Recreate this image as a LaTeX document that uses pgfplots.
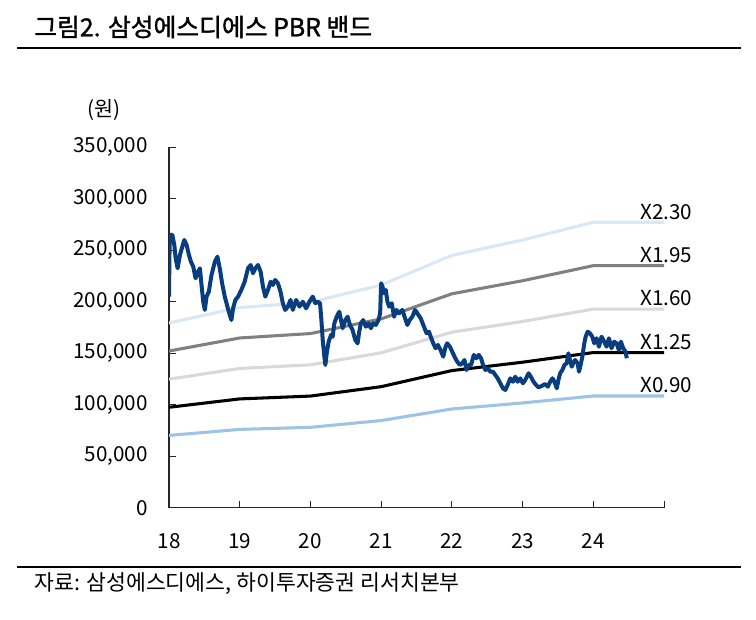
\documentclass[border=0pt]{standalone}
\usepackage{fontspec}
\usepackage{pgfplots}
\pgfplotsset{compat=1.18}
\setmainfont{Noto Sans CJK KR}
\newfontfamily\titlefont{Noto Sans CJK KR}[FakeBold=1.4]
\definecolor{bandA}{RGB}{218,232,246}
\definecolor{bandB}{RGB}{128,128,128}
\definecolor{bandC}{RGB}{217,217,217}
\definecolor{bandE}{RGB}{157,195,230}
\definecolor{price}{RGB}{8,62,128}
\newcommand{\lab}{\fontsize{15.5}{18}\selectfont}
\begin{document}
\begin{tikzpicture}
\path[use as bounding box] (0,0) rectangle (567pt,-464.25pt);
\begin{scope}[x=0.75pt,y=-0.75pt]
\node[anchor=west,inner sep=0pt,font=\titlefont\fontsize{18.6}{21}\selectfont] at (34,27) {그림2. 삼성에스디에스 PBR 밴드};
\draw[line width=1.5pt] (17,47.5) -- (741,47.5);
\draw[line width=1.5pt] (17,567.3) -- (741,567.3);
\node[anchor=west,inner sep=0pt,font=\fontsize{16.2}{19}\selectfont] at (34,584) {자료: 삼성에스디에스, 하이투자증권 리서치본부};
\node[inner sep=0pt,font=\lab] at (104,110) {(원)};
\node[anchor=west,inner sep=0pt,font=\lab] at (640,212) {X2.30};
\node[anchor=west,inner sep=0pt,font=\lab] at (640,255) {X1.95};
\node[anchor=west,inner sep=0pt,font=\lab] at (640,298) {X1.60};
\node[anchor=west,inner sep=0pt,font=\lab] at (640,342) {X1.25};
\node[anchor=west,inner sep=0pt,font=\lab] at (640,385) {X0.90};
\end{scope}
\begin{axis}[
  at={(126.75pt,-380.775pt)}, anchor=south west,
  width=371.25pt, height=270.4pt, scale only axis,
  xmin=18, xmax=25, ymin=0, ymax=350000,
  axis x line=bottom, axis y line=left,
  axis line style={-, line width=0.8pt, black!85},
  xtick={18,19,20,21,22,23,24,25},
  xticklabels={18,19,20,21,22,23,24,{}},
  ytick={0,50000,100000,150000,200000,250000,300000,350000},
  scaled y ticks=false,
  /pgf/number format/fixed,
  /pgf/number format/1000 sep={,},
  /pgf/number format/assume math mode=true,
  tick align=inside, major tick length=5pt,
  tick style={black!85, line width=0.7pt},
  tick label style={font=\lab},
  yticklabel style={inner sep=0pt, anchor=east, xshift=-15.75pt},
  xticklabel style={inner sep=0pt, anchor=north, yshift=-19pt},
  line join=round,
]
\addplot[bandA, line width=2.3pt] coordinates {(18,179400) (19,194350) (20,199410) (21,216200) (22,244950) (23,259900) (24,277150) (25,277150)};
\addplot[bandB, line width=2.3pt] coordinates {(18,152100) (19,164775) (20,169065) (21,183300) (22,207675) (23,220350) (24,234975) (25,234975)};
\addplot[bandC, line width=2.3pt] coordinates {(18,124800) (19,135200) (20,138720) (21,150400) (22,170400) (23,180800) (24,192800) (25,192800)};
\addplot[black, line width=2.3pt] coordinates {(18,97500) (19,105625) (20,108375) (21,117500) (22,133125) (23,141250) (24,150625) (25,150625)};
\addplot[bandE, line width=2.3pt] coordinates {(18,70200) (19,76050) (20,78030) (21,84600) (22,95850) (23,101700) (24,108450) (25,108450)};
\addplot[price, line width=3pt] table {
18.000 204900
18.010 264800
18.047 265000
18.075 255100
18.094 242100
18.122 232400
18.155 245400
18.188 253400
18.216 259900
18.249 255100
18.282 245400
18.310 238800
18.343 234000
18.376 222700
18.413 229100
18.437 232400
18.460 216200
18.484 200000
18.507 192000
18.531 204900
18.563 209700
18.601 225900
18.648 238800
18.685 243700
18.718 232400
18.751 217900
18.789 204900
18.826 195200
18.859 187100
18.883 182200
18.906 193600
18.939 201700
18.977 204900
19.023 211400
19.070 219400
19.117 232400
19.155 235600
19.188 227600
19.221 232400
19.258 235600
19.296 229100
19.329 214600
19.362 204900
19.399 211400
19.437 219400
19.469 216200
19.502 221100
19.540 217900
19.577 209700
19.610 198500
19.643 192000
19.681 195200
19.718 201700
19.751 192000
19.798 201700
19.845 195200
19.892 200000
19.939 193600
19.986 200000
20.033 204900
20.070 198500
20.103 200000
20.136 198500
20.155 182200
20.174 162800
20.197 146600
20.211 138600
20.230 149900
20.258 161200
20.291 167700
20.315 166000
20.338 179000
20.371 185400
20.408 190300
20.432 182200
20.455 174200
20.493 182200
20.526 185400
20.559 177400
20.596 172500
20.634 162800
20.667 159600
20.690 170900
20.714 179000
20.746 182200
20.784 175700
20.822 179000
20.854 174200
20.887 179000
20.925 177400
20.962 182200
20.986 188700
21.000 217900
21.019 214600
21.042 208200
21.066 211400
21.089 200000
21.113 195200
21.150 198500
21.183 185400
21.216 192000
21.254 188700
21.300 192000
21.338 183900
21.371 177400
21.404 182200
21.441 185400
21.479 192000
21.512 188700
21.559 183900
21.606 175700
21.643 169300
21.676 170900
21.709 164500
21.737 159600
21.770 154800
21.803 158000
21.840 153100
21.878 146600
21.911 156300
21.934 159600
21.972 156300
22.005 151500
22.038 146600
22.075 141800
22.113 138600
22.146 140200
22.178 143400
22.207 133700
22.239 138600
22.272 138600
22.310 148300
22.347 145100
22.380 148300
22.413 145100
22.441 138600
22.474 133700
22.507 135300
22.545 132000
22.582 132000
22.615 128800
22.648 125600
22.685 120800
22.723 115900
22.756 114300
22.789 119100
22.826 125600
22.864 122300
22.897 127200
22.930 122300
22.967 125600
23.005 120800
23.038 124000
23.085 130500
23.117 127200
23.155 122300
23.192 119100
23.225 116900
23.272 118200
23.319 120100
23.357 117500
23.390 122300
23.423 125600
23.451 122300
23.484 115900
23.507 124000
23.531 130500
23.563 133700
23.592 138600
23.624 140200
23.648 149900
23.671 143400
23.695 136900
23.718 140200
23.742 143400
23.779 140200
23.798 132000
23.826 140200
23.845 146600
23.873 159600
23.892 166000
23.920 170900
23.953 169300
23.986 166000
24.014 159600
24.047 164500
24.080 156300
24.117 166000
24.155 161200
24.188 156300
24.221 164500
24.258 154800
24.296 161200
24.329 159600
24.362 153100
24.390 161200
24.423 154800
24.455 151500
24.474 145100
};
\end{axis}
\end{tikzpicture}
\end{document}
